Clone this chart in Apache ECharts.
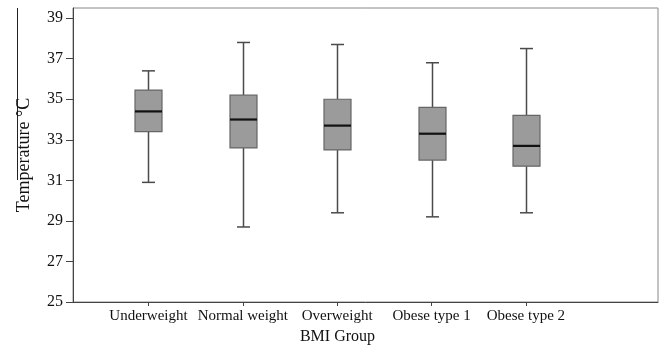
<!DOCTYPE html>
<html>
<head>
<meta charset="utf-8">
<script src="https://cdn.jsdelivr.net/npm/echarts@6/dist/echarts.min.js"></script>
<style>html,body{margin:0;padding:0;background:#fff}#c{width:663px;height:353px}</style>
</head>
<body>
<div id="c"></div>
<script>
const categories = ['Underweight', 'Normal weight', 'Overweight', 'Obese type 1', 'Obese type 2'];
const positions = [1, 2, 3, 4, 5];
const mins    = [30.9, 28.7, 29.4, 29.2, 29.4];
const q1s     = [33.4, 32.6, 32.5, 32.0, 31.7];
const medians = [34.4, 34.0, 33.7, 33.3, 32.7];
const q3s     = [35.45, 35.2, 35.0, 34.6, 34.2];
const maxs    = [36.4, 37.8, 37.7, 36.8, 37.5];
const yTicks  = [25, 27, 29, 31, 33, 35, 37, 39];

const data = positions.map((p, i) => [p, mins[i], q1s[i], medians[i], q3s[i], maxs[i]]);

function renderItem(params, api) {
  const x = api.value(0);
  const pMin = api.coord([x, api.value(1)]);
  const pQ1 = api.coord([x, api.value(2)]);
  const pMed = api.coord([x, api.value(3)]);
  const pQ3 = api.coord([x, api.value(4)]);
  const pMax = api.coord([x, api.value(5)]);
  const cx = Math.round(pMed[0]) + 0.5;
  const bw = 27, cw = 13;
  const ws = { stroke: '#4a4a4a', lineWidth: 1.5 };
  return {
    type: 'group',
    children: [
      { type: 'line', shape: { x1: cx, y1: pMax[1], x2: cx, y2: pQ3[1] }, style: ws },
      { type: 'line', shape: { x1: cx, y1: pQ1[1], x2: cx, y2: pMin[1] }, style: ws },
      { type: 'line', shape: { x1: cx - cw / 2, y1: pMax[1], x2: cx + cw / 2, y2: pMax[1] }, style: ws },
      { type: 'line', shape: { x1: cx - cw / 2, y1: pMin[1], x2: cx + cw / 2, y2: pMin[1] }, style: ws },
      { type: 'rect', shape: { x: cx - bw / 2, y: pQ3[1], width: bw, height: pQ1[1] - pQ3[1] },
        style: { fill: '#9b9b9b', stroke: '#666', lineWidth: 1.2 } },
      { type: 'line', shape: { x1: cx - bw / 2, y1: pMed[1], x2: cx + bw / 2, y2: pMed[1] },
        style: { stroke: '#111', lineWidth: 2.2 } }
    ]
  };
}

const chart = echarts.init(document.getElementById('c'), null, { renderer: 'canvas' });
chart.setOption({
  animation: false,
  backgroundColor: '#fff',
  textStyle: { fontFamily: 'Liberation Serif' },
  grid: { left: 73, right: 5, top: 8, bottom: 51, show: true, borderColor: '#888', borderWidth: 1 },
  xAxis: {
    type: 'value', min: 0.2, max: 6.4,
    name: 'BMI Group', nameLocation: 'middle', nameGap: 20,
    nameTextStyle: { fontFamily: 'Liberation Serif', fontSize: 16, color: '#111', padding: [0, 56, 0, 0] },
    splitLine: { show: false },
    axisLine: { show: true, lineStyle: { color: '#444', width: 1 } },
    axisTick: { show: true, customValues: positions, length: 4, lineStyle: { color: '#444' } },
    axisLabel: { customValues: positions, margin: 7, fontFamily: 'Liberation Serif', fontSize: 15, color: '#111',
      formatter: v => categories[Math.round(v) - 1] || '' }
  },
  yAxis: {
    type: 'value', min: 25, max: 39.5,
    name: 'Temperature °C', nameLocation: 'middle', nameGap: 40,
    nameTextStyle: { fontFamily: 'Liberation Serif', fontSize: 18, color: '#111' },
    splitLine: { show: false },
    axisLine: { show: true, lineStyle: { color: '#444', width: 1 } },
    axisTick: { show: true, customValues: yTicks, length: 7, lineStyle: { color: '#444' } },
    axisLabel: { customValues: yTicks, margin: 10, fontFamily: 'Liberation Serif', fontSize: 16, color: '#111' }
  },
  series: [{
    type: 'custom',
    renderItem: renderItem,
    encode: { x: 0, y: [1, 2, 3, 4, 5] },
    data: data
  }],
  graphic: [{
    type: 'line', shape: { x1: 17.5, y1: 8, x2: 17.5, y2: 180 }, style: { stroke: '#222', lineWidth: 1 }
  }]
});
</script>
</body>
</html>
